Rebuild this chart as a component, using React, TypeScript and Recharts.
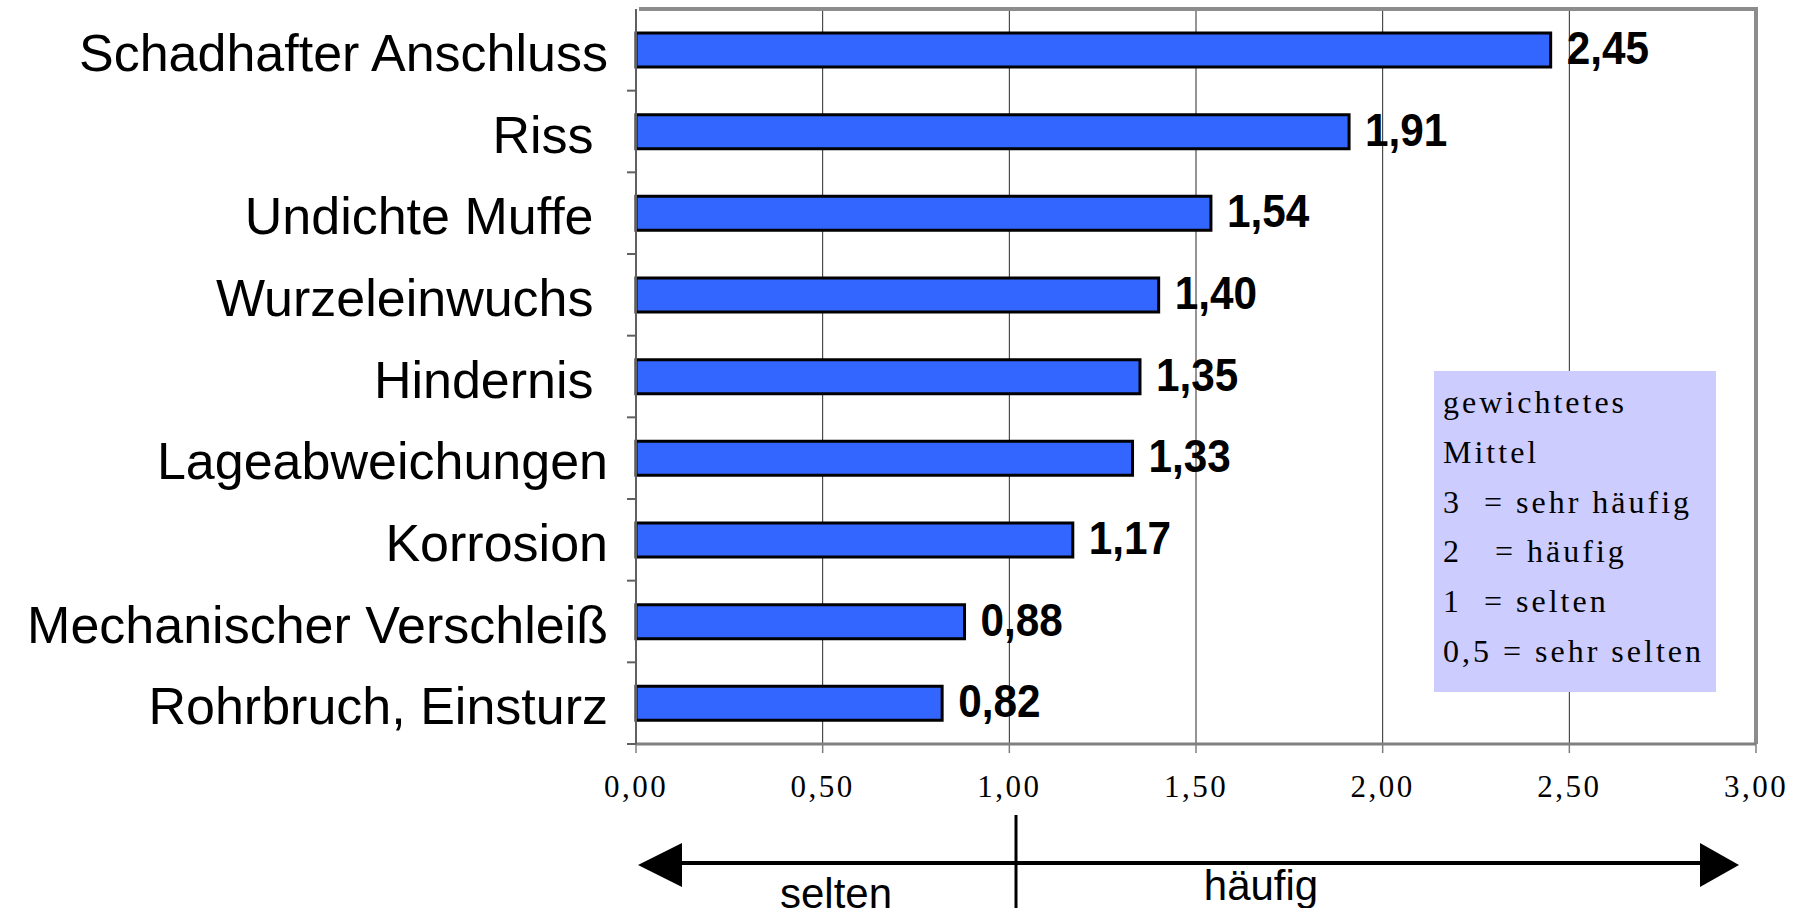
import { BarChart, Bar, XAxis, YAxis, CartesianGrid, ReferenceLine, LabelList } from 'recharts';

const categories = [
  'Schadhafter Anschluss',
  'Riss ',
  'Undichte Muffe ',
  'Wurzeleinwuchs ',
  'Hindernis ',
  'Lageabweichungen',
  'Korrosion',
  'Mechanischer Verschleiß',
  'Rohrbruch, Einsturz',
];
const values = [2.45, 1.91, 1.54, 1.4, 1.35, 1.33, 1.17, 0.88, 0.82];
const xTicks = [0, 0.5, 1, 1.5, 2, 2.5, 3];
const legendLines = [
  'gewichtetes',
  'Mittel',
  '3  = sehr häufig',
  '2   = häufig',
  '1  = selten',
  '0,5 = sehr selten',
];

const W = 1803;
const H = 908;
const PLOT_LEFT = 636;
const PLOT_RIGHT = 1756;
const PLOT_TOP = 9;
const PLOT_BOTTOM = 744;
const BAND = (PLOT_BOTTOM - PLOT_TOP) / categories.length;

const SANS = "'Liberation Sans', Arial, sans-serif";
const SERIF = "'Liberation Serif', 'Times New Roman', serif";

const data = categories.map((name, i) => ({ name, value: values[i] }));

const fmt = (v: number) => v.toFixed(2).replace('.', ',');

function CategoryTick(props: any) {
  const { y, payload } = props;
  const boundary = y + BAND / 2;
  return (
    <g>
      <line x1={PLOT_LEFT - 9} x2={PLOT_LEFT} y1={boundary} y2={boundary} stroke="#606060" strokeWidth={2} />
      <text
        x={PLOT_LEFT - 28}
        y={y + 21}
        textAnchor="end"
        fontFamily={SANS}
        fontSize={52}
        fill="#000"
        style={{ whiteSpace: 'pre' }}
      >
        {payload.value}
      </text>
    </g>
  );
}

function ValueTick(props: any) {
  const { x, y, payload } = props;
  return (
    <text x={x} y={y + 44} textAnchor="middle" fontFamily={SERIF} fontSize={31} letterSpacing={2.5} fill="#000">
      {fmt(payload.value)}
    </text>
  );
}

function ValueLabel(props: any) {
  const x = Number(props.x);
  const y = Number(props.y);
  const width = Number(props.width);
  const height = Number(props.height);
  const tx = x + width + 16;
  const ty = y + height / 2 + 14;
  return (
    <text
      transform={`translate(${tx},${ty}) scale(0.9,1)`}
      fontFamily={SANS}
      fontWeight="bold"
      fontSize={47}
      fill="#000"
    >
      {fmt(Number(props.value))}
    </text>
  );
}

function Annotations() {
  return (
    <svg width={W} height={H} style={{ position: 'absolute', left: 0, top: 0, pointerEvents: 'none' }}>
      {/* plot frame, top edge */}
      <line x1={PLOT_LEFT + 3} x2={PLOT_RIGHT + 2} y1={PLOT_TOP} y2={PLOT_TOP} stroke="#8c8c8c" strokeWidth={4} />
      {/* legend box */}
      <rect x={1434} y={371} width={282} height={321} fill="#CCCCFF" />
      {legendLines.map((line, i) => (
        <text
          key={i}
          x={1443}
          y={413 + i * 49.8}
          fontFamily={SERIF}
          fontSize={32}
          letterSpacing={3}
          fill="#000"
          style={{ whiteSpace: 'pre' }}
        >
          {line}
        </text>
      ))}
      {/* selten / häufig arrow */}
      <line x1={680} x2={1702} y1={863} y2={863} stroke="#000" strokeWidth={4} />
      <polygon points="638,865 682,843 682,887" fill="#000" />
      <polygon points="1739,865 1700,843 1700,887" fill="#000" />
      <line x1={1016} x2={1016} y1={815} y2={908} stroke="#000" strokeWidth={3} />
      <text x={836} y={908} textAnchor="middle" fontFamily={SANS} fontSize={42} fill="#000">
        selten
      </text>
      <text x={1261} y={900} textAnchor="middle" fontFamily={SANS} fontSize={42} fill="#000">
        häufig
      </text>
    </svg>
  );
}

export default function App() {
  return (
    <div style={{ position: 'absolute', left: 0, top: 0, width: W, height: H, background: '#fff' }}>
      <BarChart
        width={W}
        height={H}
        data={data}
        layout="vertical"
        margin={{ top: PLOT_TOP, right: W - PLOT_RIGHT, bottom: 0, left: 0 }}
        barSize={34}
      >
        <CartesianGrid horizontal={false} stroke="#2a2a2a" strokeWidth={1} />
        <XAxis
          type="number"
          domain={[0, 3]}
          ticks={xTicks}
          height={H - PLOT_BOTTOM}
          axisLine={{ stroke: '#808080', strokeWidth: 3 }}
          tickLine={{ stroke: '#808080', strokeWidth: 1.5 }}
          tickSize={9}
          tickMargin={0}
          tick={<ValueTick />}
          interval={0}
        />
        <YAxis
          type="category"
          dataKey="name"
          width={PLOT_LEFT}
          axisLine={{ stroke: '#606060', strokeWidth: 2 }}
          tickLine={false}
          tick={<CategoryTick />}
          interval={0}
        />
        <ReferenceLine x={3} stroke="#8c8c8c" strokeWidth={4} />
        <Bar dataKey="value" fill="#3366FF" stroke="#000" strokeWidth={3} isAnimationActive={false}>
          <LabelList dataKey="value" content={<ValueLabel />} />
        </Bar>
      </BarChart>
      <Annotations />
    </div>
  );
}
